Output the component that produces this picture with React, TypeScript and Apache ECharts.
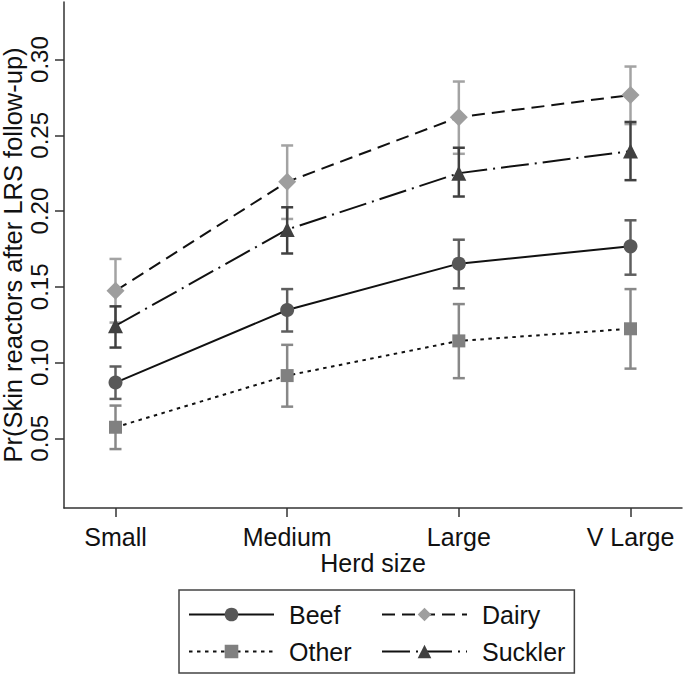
import React, { useEffect, useRef } from "react";
import * as echarts from "echarts";

const categories = ["Small", "Medium", "Large", "V Large"];
const xPos = [1, 2, 3, 4];
const yTicks = [0.05, 0.1, 0.15, 0.2, 0.25, 0.3];

const beef = [0.0868, 0.1347, 0.1653, 0.1767];
const beefLo = [0.076, 0.1205, 0.149, 0.158];
const beefHi = [0.0974, 0.1485, 0.1811, 0.1939];

const dairy = [0.1474, 0.2193, 0.262, 0.2766];
const dairyLo = [0.1264, 0.1948, 0.2378, 0.2574];
const dairyHi = [0.1684, 0.2433, 0.2855, 0.2954];

const other = [0.0573, 0.0914, 0.1143, 0.1223];
const otherLo = [0.0429, 0.0709, 0.0897, 0.096];
const otherHi = [0.0716, 0.1117, 0.1386, 0.1485];

const suckler = [0.1243, 0.1878, 0.225, 0.2396];
const sucklerLo = [0.1099, 0.172, 0.2096, 0.2204];
const sucklerHi = [0.1371, 0.2025, 0.2418, 0.2588];

const FONT = "'Liberation Sans', Arial, sans-serif";

function errSeries(name: string, lo: number[], hi: number[], color: string) {
  return {
    type: "custom",
    name: name + " CI",
    z: 1,
    encode: { x: 0, y: [1, 2] },
    data: xPos.map((x, i) => [x, lo[i], hi[i]]),
    renderItem: (params: any, api: any) => {
      const x = api.value(0);
      const pLo = api.coord([x, api.value(1)]);
      const pHi = api.coord([x, api.value(2)]);
      const hw = 6;
      const st = { stroke: color, lineWidth: 2.5 };
      return {
        type: "group",
        children: [
          { type: "line", shape: { x1: pLo[0], y1: pLo[1], x2: pHi[0], y2: pHi[1] }, style: st },
          { type: "line", shape: { x1: pLo[0] - hw, y1: pLo[1], x2: pLo[0] + hw, y2: pLo[1] }, style: st },
          { type: "line", shape: { x1: pHi[0] - hw, y1: pHi[1], x2: pHi[0] + hw, y2: pHi[1] }, style: st },
        ],
      };
    },
  };
}

function lineSeries(name: string, vals: number[], symbol: string, size: number, markerColor: string, dash: any) {
  return {
    type: "line",
    name,
    z: 3,
    data: xPos.map((x, i) => [x, vals[i]]),
    symbol,
    symbolSize: size,
    showAllSymbol: true,
    itemStyle: { color: markerColor, borderWidth: 0 },
    lineStyle: { color: "#111", width: 2, type: dash },
  };
}

export default function App() {
  const ref = useRef<HTMLDivElement>(null);
  useEffect(() => {
    if (!ref.current) return;
    const chart = echarts.init(ref.current, null, { renderer: "svg" });
    chart.setOption({
      animation: false,
      backgroundColor: "#fff",
      textStyle: { fontFamily: FONT, color: "#111" },
      grid: { left: 64, right: 3, top: 2, bottom: 167, containLabel: false, outerBoundsMode: "none" },
      xAxis: {
        type: "value",
        min: 0.7,
        max: 4.3,
        name: "Herd size",
        nameLocation: "middle",
        nameGap: 42,
        nameMoveOverlap: false,
        nameTextStyle: { fontSize: 25, color: "#111", fontFamily: FONT },
        axisLine: { show: true, lineStyle: { color: "#333", width: 1.5 } },
        axisTick: { show: true, length: 9, customValues: xPos, lineStyle: { color: "#333", width: 1.5 } },
        axisLabel: {
          customValues: xPos,
          fontSize: 25,
          color: "#111",
          margin: 16,
          formatter: (v: number) => categories[Math.round(v) - 1] ?? "",
        },
        splitLine: { show: false },
      },
      yAxis: {
        type: "value",
        min: 0.004,
        max: 0.338,
        name: "Pr(Skin reactors after LRS follow-up)",
        nameLocation: "middle",
        nameRotate: 90,
        nameGap: 39,
        nameMoveOverlap: false,
        nameTextStyle: { fontSize: 25.5, lineHeight: 25, color: "#111", fontFamily: FONT },
        axisLine: { show: true, lineStyle: { color: "#333", width: 1.5 } },
        axisTick: { show: true, length: 9, customValues: yTicks, lineStyle: { color: "#333", width: 1.5 } },
        axisLabel: {
          customValues: yTicks,
          rotate: 90,
          fontSize: 24,
          color: "#111",
          margin: 13,
          formatter: (v: number) => v.toFixed(2),
        },
        splitLine: { show: false },
      },
      legend: {
        data: ["Beef", "Dairy", "Other", "Suckler"],
        left: 179,
        top: 590,
        width: 395,
        orient: "horizontal",
        padding: [12, 9, 9, 9],
        itemGap: 12,
        itemWidth: 85,
        itemHeight: 17,
        borderColor: "#444",
        borderWidth: 1.5,
        borderRadius: 0,
        textStyle: { fontSize: 25, color: "#111", fontFamily: FONT, width: 80, overflow: "none", lineHeight: 25, padding: [0, 0, 0, 10] },
      },
      series: [
        errSeries("Beef", beefLo, beefHi, "#5e5e5e"),
        errSeries("Dairy", dairyLo, dairyHi, "#a3a3a3"),
        errSeries("Other", otherLo, otherHi, "#888888"),
        errSeries("Suckler", sucklerLo, sucklerHi, "#404040"),
        lineSeries("Beef", beef, "circle", 14, "#585858", "solid"),
        lineSeries("Dairy", dairy, "diamond", 18, "#9e9e9e", [13, 7]),
        lineSeries("Other", other, "rect", 13, "#808080", [3.5, 4.5]),
        lineSeries("Suckler", suckler, "triangle", 15, "#404040", [28, 6, 2, 6]),
      ],
    });
    return () => chart.dispose();
  }, []);
  return <div ref={ref} style={{ width: 685, height: 675, position: "absolute", left: 0, top: 0 }} />;
}
